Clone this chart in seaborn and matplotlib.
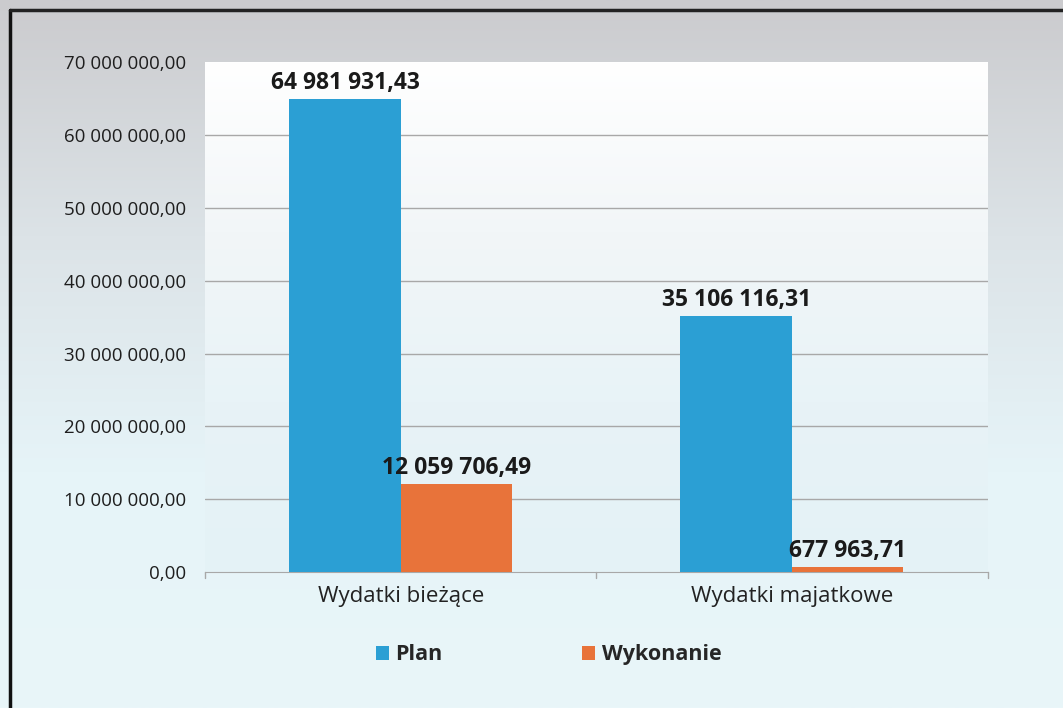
import numpy as np
import pandas as pd
import seaborn as sns
import matplotlib.pyplot as plt
from matplotlib.colors import LinearSegmentedColormap

# dane
categories = ['Wydatki bieżące', 'Wydatki majatkowe']
plan = [64981931.43, 35106116.31]
wykonanie = [12059706.49, 677963.71]
series = ['Plan', 'Wykonanie']
colors = ['#2b9fd4', '#e8733a']
yticks = [0, 10e6, 20e6, 30e6, 40e6, 50e6, 60e6, 70e6]

df = pd.DataFrame({
    'kategoria': categories * 2,
    'seria': [series[0]] * 2 + [series[1]] * 2,
    'wartosc': plan + wykonanie,
})


def fmt(v):
    s = f'{v:,.2f}'
    return s.replace(',', ' ').replace('.', ',')


sns.set_style('white')
plt.rcParams['font.family'] = ['Open Sans', 'DejaVu Sans']

fig = plt.figure(figsize=(10.63, 7.08), dpi=100)

# tło wykresu - gradient szary -> jasnoniebieski
bg = fig.add_axes([0, 0, 1, 1], zorder=-10)
cmap_bg = LinearSegmentedColormap.from_list('bg', ['#cbcbce', '#dce3e7', '#e6f4f8', '#e9f6f9'])
bg.imshow(np.linspace(0, 1, 256).reshape(-1, 1), aspect='auto', cmap=cmap_bg,
          extent=[0, 1, 0, 1], origin='upper')
bg.set_xlim(0, 1)
bg.set_ylim(0, 1)
bg.axis('off')
# ramka
bg.plot([0.0095, 0.0095], [0, 0.986], color='#111111', lw=2.5)
bg.plot([0.0095, 1.0], [0.986, 0.986], color='#222222', lw=2.5)

pos = [0.193, 0.192, 0.736, 0.720]
pa = fig.add_axes(pos, zorder=-5)
cmap_pa = LinearSegmentedColormap.from_list('pa', ['#ffffff', '#f2f6f8', '#e8f3f7', '#e4f2f6'])
pa.imshow(np.linspace(0, 1, 256).reshape(-1, 1), aspect='auto', cmap=cmap_pa,
          extent=[0, 1, 0, 1], origin='upper')
pa.axis('off')

ax = fig.add_axes(pos)
ax.set_facecolor('none')
sns.barplot(data=df, x='kategoria', y='wartosc', hue='seria', palette=colors,
            width=0.57, gap=0, saturation=1, linewidth=0, ax=ax, zorder=3, legend=True)

ax.set_ylim(0, 70e6)
ax.set_yticks(yticks)
ax.set_yticklabels([fmt(v) for v in yticks], fontsize=13.5, color='#1e1e1e')
for y in yticks[1:-1]:
    ax.axhline(y, color='#a8a8a8', lw=1, zorder=1)
ax.tick_params(axis='y', length=0, pad=14)
ax.tick_params(axis='x', length=0, pad=10, labelsize=16, labelcolor='#222222')
for s in ['top', 'right', 'left']:
    ax.spines[s].set_visible(False)
ax.spines['bottom'].set_color('#a8a8a8')
ax.set_xlabel('')
ax.set_ylabel('')
ax.set_xlim(-0.5, 1.5)
for xb in [-0.5, 0.5, 1.5]:
    ax.plot([xb, xb], [0, -0.012], transform=ax.get_xaxis_transform(),
            color='#a8a8a8', lw=1, clip_on=False)

for cont, vals in zip(ax.containers, [plan, wykonanie]):
    ax.bar_label(cont, labels=[fmt(v) for v in vals], padding=3,
                 fontsize=16.5, fontweight='bold', color='#1a1a1a')

handles, labels = ax.get_legend_handles_labels()
ax.legend(handles, labels, loc='center', bbox_to_anchor=(0.516, 0.075),
          bbox_transform=fig.transFigure, ncol=2, frameon=False,
          prop={'size': 15.5, 'weight': 'bold'}, handlelength=0.6, handleheight=0.6,
          handletextpad=0.3, columnspacing=6.5)

fig.savefig('out.png', dpi=100)
